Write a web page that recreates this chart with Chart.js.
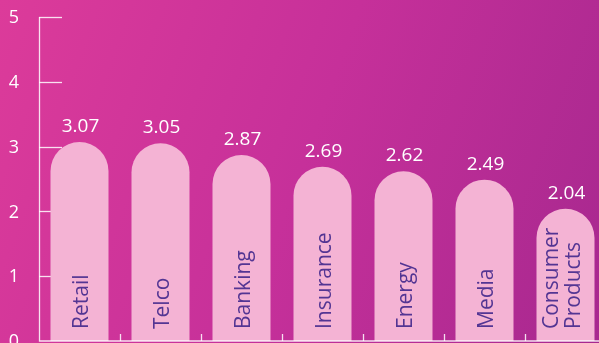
<!DOCTYPE html>
<html>
<head>
<meta charset="utf-8">
<script src="https://cdn.jsdelivr.net/npm/chart.js@4"></script>
<style>
    html, body { margin: 0; padding: 0; width: 599px; height: 343px; overflow: hidden; }
    body { background: linear-gradient(110deg, #dc3b9a 0%, #c6309a 50%, #a7288f 100%); }
    #wrap { position: relative; width: 607px; height: 343px; }
</style>
</head>
<body>
<div id="wrap"><canvas id="result-chart"></canvas></div>
<script>
    const labels = ["Retail", "Telco", "Banking", "Insurance", "Energy", "Media", ["Consumer", "Products"]];
    const scores = [3.07, 3.05, 2.87, 2.69, 2.62, 2.49, 2.04];
    const yTicks = [0, 1, 2, 3, 4, 5];

    const FONT = "'Open Sans', sans-serif";

    // axis lines, ticks and labels drawn by hand so they sit like the original
    const axisPlugin = {
        id: 'axisPlugin',
        beforeDatasetsDraw: function (chart) {
            const ctx = chart.ctx;
            const y = chart.scales.y;
            const area = chart.chartArea;
            ctx.save();
            ctx.strokeStyle = 'rgba(255,255,255,0.85)';
            ctx.lineWidth = 1.3;
            yTicks.forEach(function (v) {
                if (v === 0) return;
                const py = Math.round(y.getPixelForValue(v)) + 0.5;
                ctx.beginPath();
                ctx.moveTo(area.left, py);
                ctx.lineTo(area.left + 23, py);
                ctx.stroke();
            });
            ctx.fillStyle = '#ffffff';
            ctx.font = '18px ' + FONT;
            ctx.textAlign = 'center';
            ctx.textBaseline = 'middle';
            yTicks.forEach(function (v) {
                ctx.fillText(String(v), 14, y.getPixelForValue(v) + 1);
            });
            ctx.restore();
        },
        afterDatasetsDraw: function (chart) {
            const ctx = chart.ctx;
            const y = chart.scales.y;
            const area = chart.chartArea;
            ctx.save();
            ctx.strokeStyle = 'rgba(255,255,255,0.85)';
            ctx.lineWidth = 1.3;
            ctx.beginPath();
            ctx.moveTo(area.left + 0.5, y.getPixelForValue(5));
            ctx.lineTo(area.left + 0.5, y.getPixelForValue(0));
            ctx.lineTo(area.right, y.getPixelForValue(0));
            ctx.stroke();
            const step = (area.right - area.left) / labels.length;
            for (let i = 1; i <= labels.length; i++) {
                const px = Math.round(area.left + step * i) + 0.5;
                ctx.beginPath();
                ctx.moveTo(px, y.getPixelForValue(0));
                ctx.lineTo(px, y.getPixelForValue(0) - 7);
                ctx.stroke();
            }

            const meta = chart.getDatasetMeta(0);
            meta.data.forEach(function (bar, i) {
                // value above bar
                ctx.fillStyle = '#ffffff';
                ctx.font = '19px ' + FONT;
                ctx.textAlign = 'center';
                ctx.textBaseline = 'alphabetic';
                ctx.fillText(scores[i].toFixed(2), bar.x + 1, bar.y - 10);

                // category name inside bar, rotated
                const lines = Array.isArray(labels[i]) ? labels[i] : [labels[i]];
                ctx.save();
                ctx.translate(bar.x, y.getPixelForValue(0) - 12);
                ctx.rotate(-Math.PI / 2);
                ctx.fillStyle = '#533593';
                ctx.font = '21px ' + FONT;
                ctx.textAlign = 'left';
                ctx.textBaseline = 'alphabetic';
                const offsets = lines.length > 1 ? [-8, 14] : [8];
                lines.forEach(function (t, k) {
                    ctx.fillText(t, 0, offsets[k]);
                });
                ctx.restore();
            });
            ctx.restore();
        }
    };

    const data = {
        labels: labels,
        datasets: [
            {
                data: scores,
                backgroundColor: '#f4b3d4',
                borderWidth: 0,
                borderSkipped: 'bottom',
                borderRadius: { topLeft: 29, topRight: 29, bottomLeft: 0, bottomRight: 0 },
                categoryPercentage: 1,
                barPercentage: 0.716
            }
        ]
    };

    const config = {
        type: 'bar',
        data: data,
        options: {
            responsive: false,
            animation: false,
            maintainAspectRatio: false,
            layout: { padding: { left: 39, right: 1, top: 17, bottom: 2 } },
            plugins: {
                legend: { display: false },
                tooltip: { enabled: false },
                title: { display: false }
            },
            scales: {
                x: { display: false },
                y: { display: false, min: 0, max: 5 }
            }
        },
        plugins: [axisPlugin]
    };

    const canvas = document.getElementById('result-chart');
    canvas.width = 607;
    canvas.height = 343;
    canvas.style.width = '607px';
    canvas.style.height = '343px';
    new Chart(canvas.getContext('2d'), config);
</script>
</body>
</html>
